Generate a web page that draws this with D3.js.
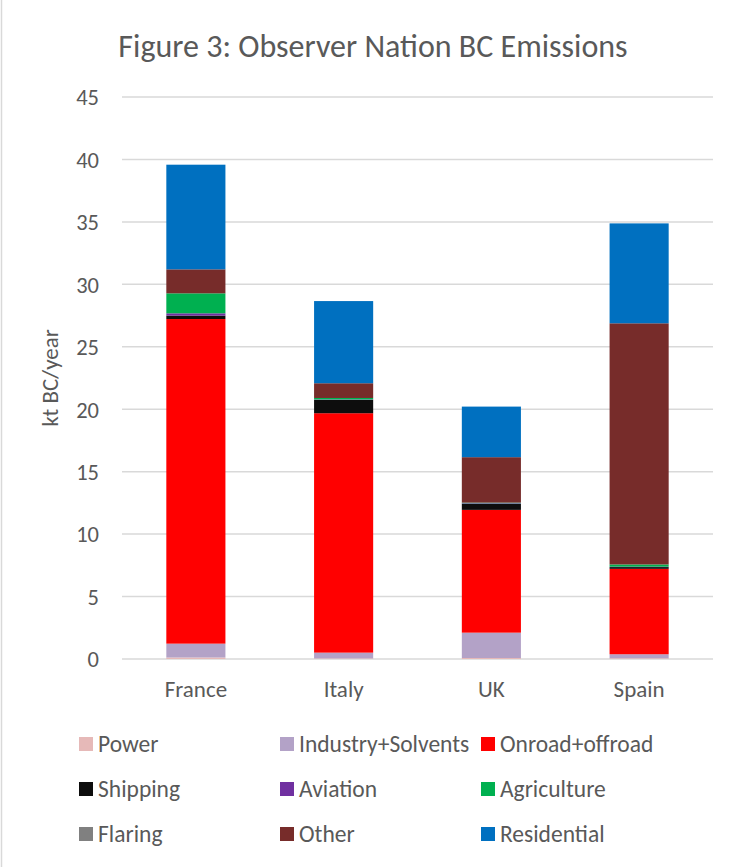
<!DOCTYPE html>
<html>
<head>
<meta charset="utf-8">
<script src="https://cdn.jsdelivr.net/npm/d3@7"></script>
<style>
  html, body { margin: 0; padding: 0; background: #ffffff; }
  svg { display: block; }
  text { font-family: Carlito, Calibri, Lato, "Open Sans", sans-serif; fill: #595959; }
</style>
</head>
<body>
<svg id="chart" width="739" height="867"></svg>
<script>
// Countries along the x axis
const countries = ["France", "Italy", "UK", "Spain"];

// Emission sectors, stacked bottom to top
const sectors = ["Power", "Industry+Solvents", "Onroad+offroad", "Shipping", "Aviation",
                 "Agriculture", "Flaring", "Other", "Residential"];

// kt BC/year per sector, one value per country (France, Italy, UK, Spain)
const power       = [0.12, 0.05, 0.08, 0.06];
const industry    = [1.11, 0.46, 2.03, 0.32];
const onroad      = [25.99, 19.17, 9.83, 6.84];
const shipping    = [0.27, 1.06, 0.48, 0.14];
const aviation    = [0.19, 0.04, 0.05, 0.03];
const agriculture = [1.60, 0.12, 0.05, 0.18];
const flaring     = [0.00, 0.00, 0.00, 0.00];
const other       = [1.92, 1.18, 3.64, 19.31];
const residential = [8.38, 6.58, 4.05, 8.00];

const yTicks = [0, 5, 10, 15, 20, 25, 30, 35, 40, 45];

const sectorColors = ["#E6B9B8", "#B3A2C7", "#FF0000", "#0D0D0D", "#7030A0",
                      "#00B050", "#808080", "#772C2A", "#0070C0"];

const seriesValues = [power, industry, onroad, shipping, aviation, agriculture, flaring, other, residential];

// Row table for d3.stack
const rows = countries.map((c, i) => {
  const r = { country: c };
  sectors.forEach((s, k) => { r[s] = seriesValues[k][i]; });
  return r;
});

const svg = d3.select("#chart");

// Plot area bounds
const plotLeft = 122, plotRight = 713, plotTop = 97, plotBottom = 659;

const x = d3.scaleBand().domain(countries).range([plotLeft, plotRight])
  .paddingInner(0.6).paddingOuter(0.3);
const y = d3.scaleLinear().domain([0, 45]).range([plotBottom, plotTop]);
const color = d3.scaleOrdinal().domain(sectors).range(sectorColors);

const fontStack = "Carlito, Calibri, Lato, 'Open Sans', sans-serif";

// Chart frame edge on the left
svg.append("line")
  .attr("x1", 1.5).attr("x2", 1.5).attr("y1", 0).attr("y2", 867)
  .attr("stroke", "#d9d9d9").attr("stroke-width", 1.5);

// Title
svg.append("text")
  .attr("x", 373).attr("y", 57)
  .attr("text-anchor", "middle")
  .style("font-size", "32px")
  .text("Figure 3: Observer Nation BC Emissions");

// Gridlines
svg.append("g")
  .selectAll("line")
  .data(yTicks)
  .join("line")
  .attr("x1", plotLeft).attr("x2", plotRight)
  .attr("y1", d => y(d)).attr("y2", d => y(d))
  .attr("stroke", "#d9d9d9").attr("stroke-width", 1.5);

// Y axis tick labels
const yAxis = d3.axisLeft(y).tickValues(yTicks).tickSize(0).tickPadding(0).tickFormat(d3.format("d"));
const yg = svg.append("g").attr("transform", "translate(99,0)").call(yAxis);
yg.select(".domain").remove();
yg.selectAll("text")
  .attr("dy", "0.35em")
  .style("font-size", "22.5px")
  .style("font-family", fontStack)
  .attr("fill", "#595959");

// Y axis title
svg.append("text")
  .attr("transform", "translate(58,378) rotate(-90)")
  .attr("text-anchor", "middle")
  .style("font-size", "23px")
  .text("kt BC/year");

// Stacked bars
const stacked = d3.stack().keys(sectors)(rows);
svg.append("g")
  .selectAll("g")
  .data(stacked)
  .join("g")
  .attr("fill", d => color(d.key))
  .selectAll("rect")
  .data(d => d)
  .join("rect")
  .attr("x", d => x(d.data.country))
  .attr("width", x.bandwidth())
  .attr("y", d => y(d[1]))
  .attr("height", d => Math.max(0, y(d[0]) - y(d[1])));

// Category axis labels
const xAxis = d3.axisBottom(x).tickSize(0).tickPadding(0);
const xg = svg.append("g").attr("transform", "translate(0,689)").call(xAxis);
xg.select(".domain").remove();
xg.selectAll("text")
  .attr("y", 0).attr("dy", "0.35em")
  .style("font-size", "23px")
  .style("font-family", fontStack)
  .attr("fill", "#595959");

// Legend: three columns, three rows
const legendCols = [79, 280, 481];
const legendRows = [737, 782, 827];
const legend = svg.append("g")
  .selectAll("g")
  .data(sectors)
  .join("g")
  .attr("transform", (d, i) => `translate(${legendCols[i % 3]},${legendRows[Math.floor(i / 3)]})`);
legend.append("rect")
  .attr("width", 14).attr("height", 14)
  .attr("fill", d => color(d));
legend.append("text")
  .attr("x", 19).attr("y", 7).attr("dy", "0.35em")
  .style("font-size", "23.5px")
  .text(d => d);
</script>
</body>
</html>
